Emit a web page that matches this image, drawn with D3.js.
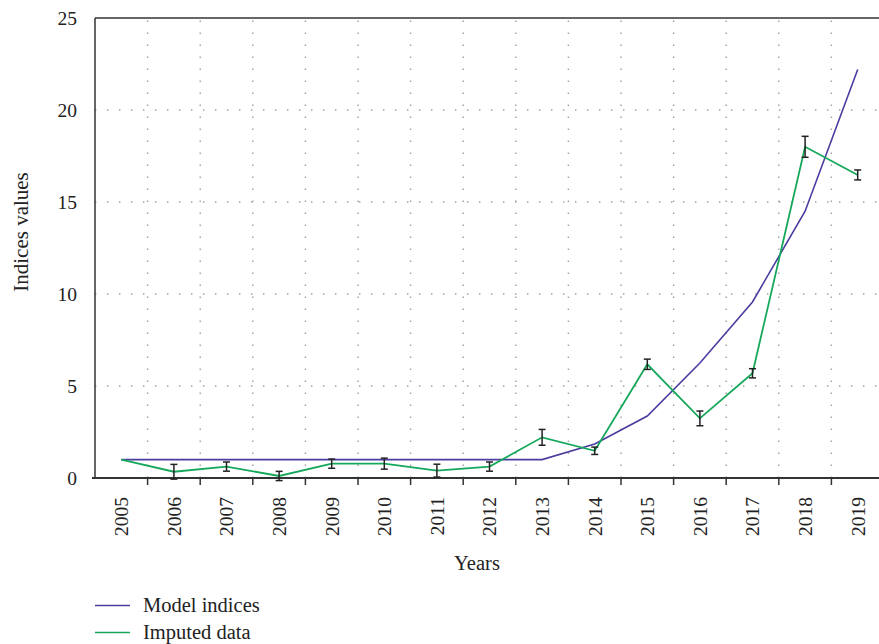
<!DOCTYPE html>
<meta charset="utf-8">
<script src="https://d3js.org/d3.v7.min.js"></script>
<style>
  body { margin: 0; background: #fff; }
  text { font-family: "Liberation Serif", "DejaVu Serif", serif; fill: #222; }
</style>
<div id="viz"></div>
<script>

var years = ["2005","2006","2007","2008","2009","2010","2011","2012","2013","2014","2015","2016","2017","2018","2019"];
var modelIndices = [1, 1, 1, 1, 1, 1, 1, 1, 1, 1.85, 3.37, 6.25, 9.57, 14.5, 22.2];
var imputed = [1, 0.34, 0.62, 0.11, 0.78, 0.78, 0.4, 0.62, 2.21, 1.48, 6.18, 3.24, 5.69, 18.0, 16.47];
var imputedErr = [0, 0.4, 0.25, 0.25, 0.25, 0.3, 0.35, 0.25, 0.43, 0.2, 0.28, 0.4, 0.25, 0.57, 0.27];
var yTicks = [0, 5, 10, 15, 20, 25];

var width = 879, height = 644;
var plotLeft = 95, plotTop = 18, plotBottom = 478;

var svg = d3.select("#viz").append("svg")
    .attr("width", width)
    .attr("height", height);

var x = d3.scaleBand()
    .domain(years)
    .range([plotLeft, 884]);

var y = d3.scaleLinear()
    .domain([0, 25])
    .range([plotBottom, plotTop]);

var cx = function(d) { return x(d) + x.bandwidth() / 2; };

// dotted grid
svg.append("g")
  .selectAll("line")
  .data(yTicks.filter(function(d) { return d > 0 && d < 25; }))
  .enter().append("line")
    .attr("x1", plotLeft).attr("x2", width)
    .attr("y1", function(d) { return y(d); })
    .attr("y2", function(d) { return y(d); })
    .attr("stroke", "#a0a0a0")
    .attr("stroke-width", 1.4)
    .attr("stroke-dasharray", "1.4,10.6");

svg.append("g")
  .selectAll("line")
  .data(years.slice(1))
  .enter().append("line")
    .attr("x1", function(d) { return x(d); })
    .attr("x2", function(d) { return x(d); })
    .attr("y1", plotBottom)
    .attr("y2", plotTop)
    .attr("stroke", "#a0a0a0")
    .attr("stroke-width", 1.4)
    .attr("stroke-dasharray", "1.4,10.6");

// frame
svg.append("line")
  .attr("x1", plotLeft).attr("x2", width)
  .attr("y1", plotTop).attr("y2", plotTop)
  .attr("stroke", "#333").attr("stroke-width", 1.5);

svg.append("line")
  .attr("x1", plotLeft).attr("x2", plotLeft)
  .attr("y1", plotTop).attr("y2", plotBottom)
  .attr("stroke", "#333").attr("stroke-width", 1.5);

// x axis
var xAxis = svg.append("g")
  .attr("transform", "translate(0," + plotBottom + ")")
  .call(d3.axisBottom(x).tickSize(0).tickSizeOuter(0));
xAxis.select(".domain").remove();
xAxis.append("line")
  .attr("x1", plotLeft - 3).attr("x2", width)
  .attr("stroke", "#333").attr("stroke-width", 2);
xAxis.selectAll(".tickmark")
  .data(years.slice(1))
  .enter().append("line")
    .attr("class", "tickmark")
    .attr("x1", function(d) { return x(d); })
    .attr("x2", function(d) { return x(d); })
    .attr("y1", 0).attr("y2", 7)
    .attr("stroke", "#333").attr("stroke-width", 1.5);
xAxis.selectAll(".tick text")
  .attr("x", -19)
  .attr("y", 0)
  .attr("dy", "0.35em")
  .attr("transform", "rotate(-90)")
  .style("text-anchor", "end")
  .style("font-size", "19.5px")
  .style("font-family", "Liberation Serif")
  .attr("fill", "#222");

// y axis
var yAxis = svg.append("g")
  .attr("transform", "translate(" + plotLeft + ",0)")
  .call(d3.axisLeft(y).tickValues(yTicks).tickSize(0).tickPadding(18));
yAxis.select(".domain").remove();
yAxis.selectAll(".tick text")
  .style("font-size", "19.5px")
  .style("font-family", "Liberation Serif")
  .attr("fill", "#222");

// axis titles
svg.append("text")
  .attr("x", 477)
  .attr("y", 570)
  .attr("text-anchor", "middle")
  .style("font-size", "20.5px")
  .text("Years");

svg.append("text")
  .attr("transform", "translate(28,232) rotate(-90)")
  .attr("text-anchor", "middle")
  .style("font-size", "21px")
  .text("Indices values");

// lines
var line = d3.line()
  .x(function(d, i) { return cx(years[i]); })
  .y(function(d) { return y(d); });

svg.append("path")
  .datum(modelIndices)
  .attr("d", line)
  .attr("fill", "none")
  .attr("stroke", "#4a3d9f")
  .attr("stroke-width", 1.6);

svg.append("path")
  .datum(imputed)
  .attr("d", line)
  .attr("fill", "none")
  .attr("stroke", "#15a85b")
  .attr("stroke-width", 1.8);

// error bars
var eb = svg.append("g")
  .selectAll("g")
  .data(imputed.map(function(v, i) { return {year: years[i], v: v, e: imputedErr[i]}; })
        .filter(function(d) { return d.e > 0; }))
  .enter().append("g")
    .attr("stroke", "#222")
    .attr("stroke-width", 1.5);

eb.append("line")
  .attr("x1", function(d) { return cx(d.year); })
  .attr("x2", function(d) { return cx(d.year); })
  .attr("y1", function(d) { return y(d.v - d.e); })
  .attr("y2", function(d) { return y(d.v + d.e); });
eb.append("line")
  .attr("x1", function(d) { return cx(d.year) - 3.5; })
  .attr("x2", function(d) { return cx(d.year) + 3.5; })
  .attr("y1", function(d) { return y(d.v - d.e); })
  .attr("y2", function(d) { return y(d.v - d.e); });
eb.append("line")
  .attr("x1", function(d) { return cx(d.year) - 3.5; })
  .attr("x2", function(d) { return cx(d.year) + 3.5; })
  .attr("y1", function(d) { return y(d.v + d.e); })
  .attr("y2", function(d) { return y(d.v + d.e); });

// legend
var legend = [
  {name: "Model indices", color: "#4a3d9f", y: 605.5},
  {name: "Imputed data", color: "#15a85b", y: 632.5}
];
var lg = svg.append("g").selectAll("g")
  .data(legend)
  .enter().append("g");
lg.append("line")
  .attr("x1", 95).attr("x2", 130)
  .attr("y1", function(d) { return d.y; })
  .attr("y2", function(d) { return d.y; })
  .attr("stroke", function(d) { return d.color; })
  .attr("stroke-width", 1.6);
lg.append("text")
  .attr("x", 143)
  .attr("y", function(d) { return d.y + 6.5; })
  .style("font-size", "20.5px")
  .text(function(d) { return d.name; });

</script>
